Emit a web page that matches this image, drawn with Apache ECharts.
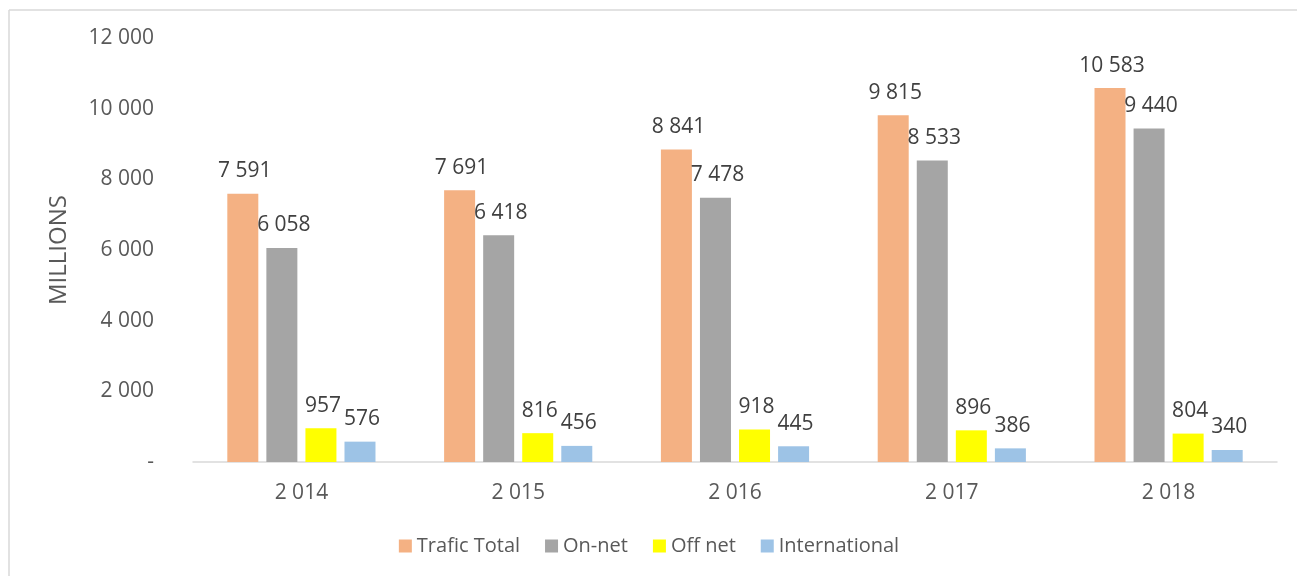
<!DOCTYPE html>
<html>
<head>
<meta charset="utf-8">
<script src="https://cdn.jsdelivr.net/npm/echarts@6/dist/echarts.min.js"></script>
<style>
  html, body { margin: 0; padding: 0; background: #fff; }
  #chart { width: 1298px; height: 576px; }
</style>
</head>
<body>
<div id="chart"></div>
<script>
// data
const years = ['2 014', '2 015', '2 016', '2 017', '2 018']
const traficTotal = [7591, 7691, 8841, 9815, 10583]
const onNet = [6058, 6418, 7478, 8533, 9440]
const offNet = [957, 816, 918, 896, 804]
const international = [576, 456, 445, 386, 340]
const seriesNames = ['Trafic Total', 'On-net', 'Off net', 'International']
const seriesColors = ['#F4B183', '#A5A5A5', '#FFFF00', '#9DC3E6']

const fmt = v => v === 0 ? '-' : String(v).replace(/\B(?=(\d{3})+(?!\d))/g, ' ')

const font = '"Open Sans", "Noto Sans", sans-serif'

var myChart = echarts.init(document.getElementById('chart'))

const dataList = [traficTotal, onNet, offNet, international]

const option = {
  animation: false,
  textStyle: { fontFamily: font },
  graphic: [
    { type: 'line', shape: { x1: 9, y1: 10, x2: 1297, y2: 10 }, style: { stroke: '#d9d9d9', lineWidth: 1.5 } },
    { type: 'line', shape: { x1: 9, y1: 10, x2: 9, y2: 576 }, style: { stroke: '#d9d9d9', lineWidth: 1.5 } }
  ],
  legend: {
    bottom: 15,
    left: 'center',
    itemWidth: 13,
    itemHeight: 13,
    itemGap: 25,
    icon: 'rect',
    textStyle: { color: '#595959', fontSize: 20, fontFamily: font },
    data: seriesNames
  },
  grid: {
    top: 38,
    bottom: 114,
    left: 193,
    right: 21
  },
  xAxis: {
    type: 'category',
    data: years,
    axisTick: { show: false },
    axisLine: { lineStyle: { color: '#d9d9d9', width: 1.5 } },
    axisLabel: { color: '#595959', fontSize: 21, margin: 21 }
  },
  yAxis: {
    type: 'value',
    min: 0,
    max: 12000,
    interval: 2000,
    name: 'MILLIONS',
    nameLocation: 'middle',
    nameGap: 122,
    nameTextStyle: { color: '#595959', fontSize: 24, padding: [0, 0, 0, 0] },
    splitLine: { show: false },
    axisLine: { show: false },
    axisTick: { show: false },
    axisLabel: { color: '#595959', fontSize: 21, margin: 39, formatter: fmt }
  },
  series: seriesNames.map((name, i) => ({
    name: name,
    type: 'bar',
    data: dataList[i],
    barWidth: 31,
    barGap: '26%',
    itemStyle: { color: seriesColors[i] },
    label: {
      show: true,
      position: 'top',
      distance: 12,
      offset: [2, 0],
      color: '#404040',
      fontSize: 21,
      formatter: p => fmt(p.value)
    }
  }))
}

myChart.setOption(option)
</script>
</body>
</html>
